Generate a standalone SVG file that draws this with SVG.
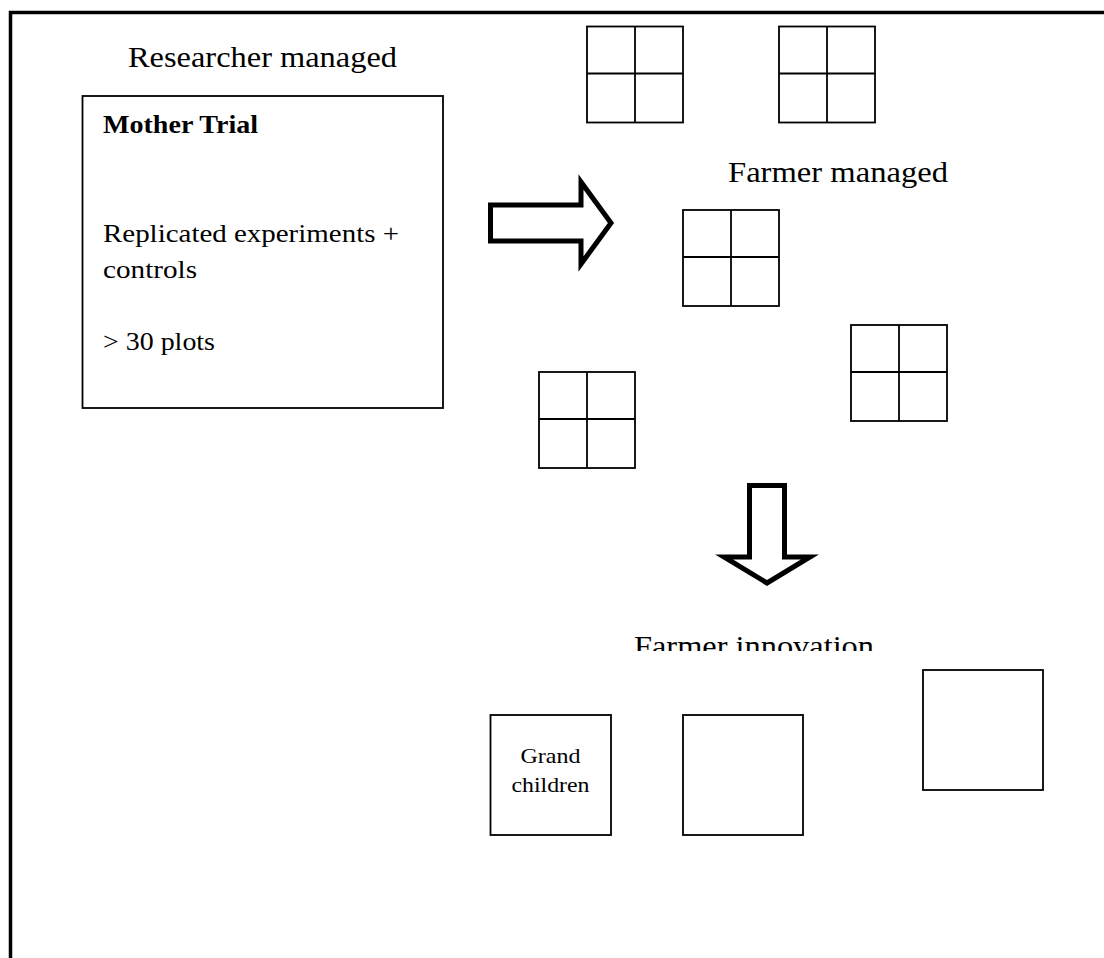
<svg xmlns="http://www.w3.org/2000/svg" width="1104" height="958" viewBox="0 0 1104 958">
<style>
.t{font-family:"Liberation Serif","Times New Roman",serif;fill:#000}
.h{font-size:29px}
.b{font-size:25px}
.s{font-size:21px}
.box{fill:#fff;stroke:#000;stroke-width:1.8}
.ln{stroke:#000;stroke-width:1.8;fill:none}
.arr{fill:#fff;stroke:#000;stroke-width:5;stroke-linejoin:miter}
</style>
<defs>
<clipPath id="clipInno"><rect x="600" y="600" width="320" height="51"/></clipPath>
<g id="grid">
<rect class="box" x="0" y="0" width="96" height="96"/>
<line class="ln" x1="48" y1="0" x2="48" y2="96"/>
<line class="ln" x1="0" y1="47" x2="96" y2="47"/>
</g>
</defs>
<rect x="0" y="0" width="1104" height="958" fill="#fff"/>
<path id="frame" d="M10.5,958 V12.5 H1104" fill="none" stroke="#000" stroke-width="3.5"/>

<text class="t h" x="128" y="67" textLength="269" lengthAdjust="spacingAndGlyphs">Researcher managed</text>

<g id="mother">
<rect class="box" x="82.5" y="96" width="360.5" height="312"/>
<text class="t b" x="103" y="133" font-weight="bold" textLength="155" lengthAdjust="spacingAndGlyphs">Mother Trial</text>
<text class="t b" x="103" y="242" textLength="296" lengthAdjust="spacingAndGlyphs">Replicated experiments +</text>
<text class="t b" x="103" y="278" textLength="94" lengthAdjust="spacingAndGlyphs">controls</text>
<text class="t b" x="103" y="350" textLength="112" lengthAdjust="spacingAndGlyphs">&gt; 30 plots</text>
</g>

<g id="connectors">
<polygon class="arr" points="490.5,205 581,205 581,182 611,223 581,264 581,241 490.5,241"/>
<polygon class="arr" points="749.5,485.5 784.5,485.5 784.5,557 810,557 767,583 724,557 749.5,557"/>
</g>

<g id="child1"><use href="#grid" x="587" y="26.5"/></g>
<g id="child2"><use href="#grid" x="779" y="26.5"/></g>
<text class="t h" x="728" y="182" textLength="220" lengthAdjust="spacingAndGlyphs">Farmer managed</text>
<g id="child3"><use href="#grid" x="683" y="210"/></g>
<g id="child4"><use href="#grid" x="851" y="325"/></g>
<g id="child5"><use href="#grid" x="539" y="372"/></g>

<text class="t h" x="634" y="656" textLength="240" lengthAdjust="spacingAndGlyphs" clip-path="url(#clipInno)">Farmer innovation</text>

<g id="grandchild1">
<rect class="box" x="490.5" y="715" width="120.5" height="120"/>
<text class="t s" x="550.5" y="763" text-anchor="middle" textLength="60" lengthAdjust="spacingAndGlyphs">Grand</text>
<text class="t s" x="550.5" y="792" text-anchor="middle" textLength="78" lengthAdjust="spacingAndGlyphs">children</text>
</g>
<g id="grandchild2"><rect class="box" x="683" y="715" width="120" height="120"/></g>
<g id="grandchild3"><rect class="box" x="923" y="670" width="120" height="120"/></g>
</svg>
